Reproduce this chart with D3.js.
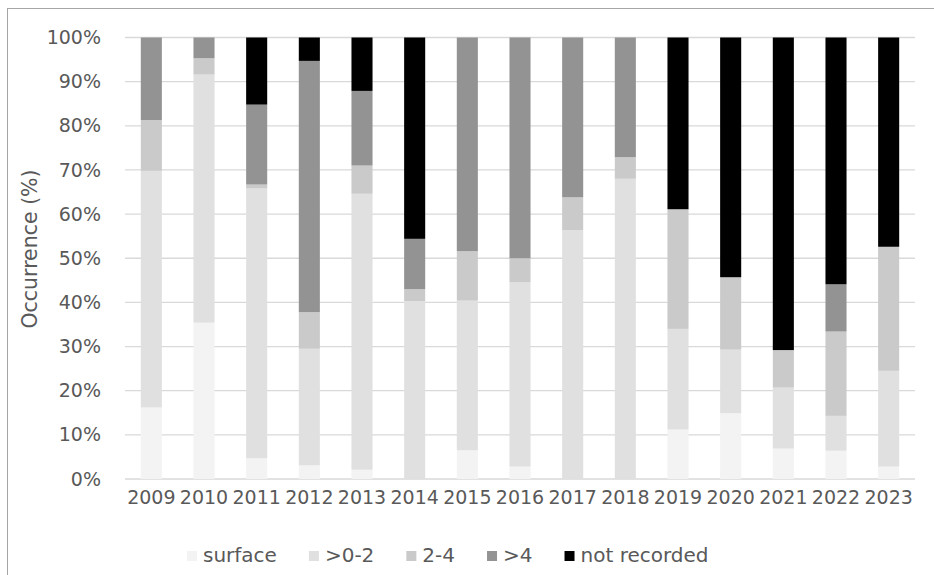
<!DOCTYPE html>
<html>
<head>
<meta charset="utf-8">
<script src="https://cdn.jsdelivr.net/npm/d3@7"></script>
<style>
  html, body { margin: 0; padding: 0; background: #fff; }
  svg { display: block; }
  text { font-family: "DejaVu Sans", Verdana, sans-serif; fill: #595959; }
</style>
</head>
<body>
<svg id="chart" width="934" height="575"></svg>
<script>
// ---- data ----
const years = ["2009","2010","2011","2012","2013","2014","2015","2016","2017","2018","2019","2020","2021","2022","2023"];
const seriesNames = ["surface", ">0-2", "2-4", ">4", "not recorded"];
const surface     = [16.2, 35.4,  4.7,  3.1,  2.1,  0.0,  6.5,  2.8,  0.0,  0.0, 11.2, 14.9,  6.9,  6.4,  2.8];
const depth0to2   = [53.6, 56.2, 61.1, 26.4, 62.5, 40.3, 33.9, 41.8, 56.4, 68.0, 22.8, 14.4, 13.8,  7.9, 21.7];
const depth2to4   = [11.5,  3.7,  0.9,  8.3,  6.4,  2.7, 11.2,  5.4,  7.4,  4.9, 27.1, 16.4,  8.5, 19.1, 28.1];
const depthOver4  = [18.7,  4.7, 18.1, 56.9, 16.9, 11.4, 48.4, 50.0, 36.2, 27.1,  0.0,  0.0,  0.0, 10.7,  0.0];
const notRecorded = [ 0.0,  0.0, 15.2,  5.3, 12.1, 45.6,  0.0,  0.0,  0.0,  0.0, 38.9, 54.3, 70.8, 55.9, 47.4];
const yTicks = [0, 10, 20, 30, 40, 50, 60, 70, 80, 90, 100];
const colors = ["#f3f3f3", "#e0e0e0", "#cacaca", "#939393", "#000000"];

const seriesValues = [surface, depth0to2, depth2to4, depthOver4, notRecorded];
const table = years.map((y, i) => {
  const row = { year: y };
  seriesNames.forEach((s, k) => row[s] = seriesValues[k][i]);
  return row;
});

// ---- layout ----
const svg = d3.select("#chart");
const plot = { left: 125, right: 915, top: 37.5, bottom: 479 };

// outer chart border (cropped on right/bottom)
svg.append("rect")
  .attr("x", 7.5).attr("y", 8.5).attr("width", 960).attr("height", 600)
  .attr("fill", "none").attr("stroke", "#a6a6a6").attr("stroke-width", 1);

const x = d3.scaleBand().domain(years).range([plot.left, plot.right])
  .paddingInner(0.6).paddingOuter(0.3);
const y = d3.scaleLinear().domain([0, 100]).range([plot.bottom, plot.top]);

// gridlines
svg.append("g").selectAll("line").data(yTicks).join("line")
  .attr("x1", plot.left).attr("x2", plot.right)
  .attr("y1", d => y(d)).attr("y2", d => y(d))
  .attr("stroke", "#d9d9d9").attr("stroke-width", 1.3);

// stacked bars
const stack = d3.stack().keys(seriesNames)(table);
svg.append("g").selectAll("g").data(stack).join("g")
  .attr("fill", (d, i) => colors[i])
  .selectAll("rect").data(d => d).join("rect")
  .attr("x", d => x(d.data.year))
  .attr("width", x.bandwidth())
  .attr("y", d => y(d[1]))
  .attr("height", d => Math.max(0, y(d[0]) - y(d[1])));

// y axis labels
const yAxis = d3.axisLeft(y).tickValues(yTicks).tickFormat(d => d + "%").tickSize(0).tickPadding(0);
const gy = svg.append("g").attr("transform", `translate(${plot.left - 24},0)`).call(yAxis);
gy.select(".domain").remove();
gy.selectAll("text").attr("font-size", "19px").attr("font-family", "DejaVu Sans").attr("fill", "#595959");

// x axis labels
const xAxis = d3.axisBottom(x).tickSize(0).tickPadding(0);
const gx = svg.append("g").attr("transform", `translate(0,${plot.bottom + 11})`).call(xAxis);
gx.select(".domain").remove();
gx.selectAll("text").attr("font-size", "19px").attr("font-family", "DejaVu Sans").attr("fill", "#595959");

// y title
svg.append("text")
  .attr("transform", `translate(30,249) rotate(-90)`)
  .attr("text-anchor", "middle")
  .attr("dominant-baseline", "central")
  .attr("font-size", "20.5px")
  .text("Occurrence (%)");

// legend
const legend = svg.append("g");
let lx = 187;
seriesNames.forEach((name, i) => {
  legend.append("rect").attr("x", lx).attr("y", 551).attr("width", 10).attr("height", 10).attr("fill", colors[i]);
  const t = legend.append("text").attr("x", lx + 16).attr("y", 562)
    .attr("font-size", "20px").text(name);
  lx += 16 + t.node().getComputedTextLength() + 32;
});
</script>
</body>
</html>
